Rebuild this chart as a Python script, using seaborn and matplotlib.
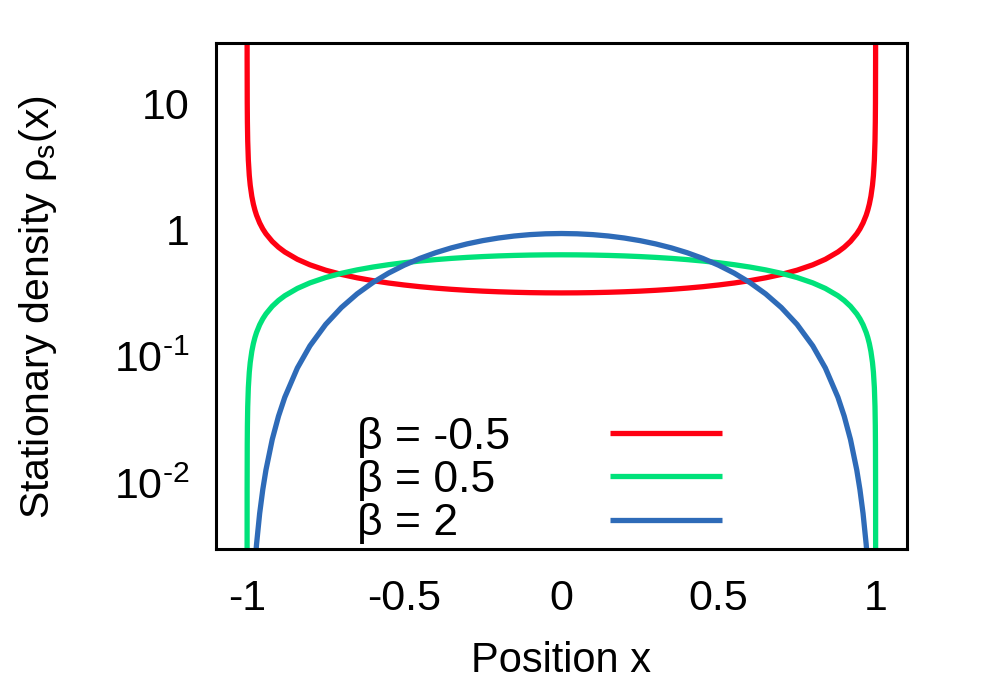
import numpy as np
import pandas as pd
import matplotlib
matplotlib.use("Agg")
import matplotlib.pyplot as plt
import matplotlib.ticker as mticker
from matplotlib.lines import Line2D
import seaborn as sns

# values (curves are symmetric in x, so only x >= 0 is listed)
x_half = [0, 0.05, 0.1, 0.15, 0.2, 0.25, 0.3, 0.35, 0.4, 0.45, 0.5, 0.55, 0.6,
          0.65, 0.7, 0.75, 0.8, 0.84, 0.88, 0.9, 0.92, 0.94, 0.95, 0.96, 0.97,
          0.975, 0.98, 0.985, 0.99, 0.993, 0.996, 0.998, 0.999, 0.9995, 0.9999,
          0.99999]
rho_m05 = [0.3183, 0.3187, 0.3199, 0.3220, 0.3249, 0.3287, 0.3337, 0.3398,
           0.3473, 0.3564, 0.3676, 0.3811, 0.3979, 0.4189, 0.4457, 0.4812,
           0.5305, 0.5866, 0.6702, 0.7303, 0.8122, 0.9330, 1.019, 1.137, 1.309,
           1.433, 1.600, 1.845, 2.256, 2.695, 3.563, 5.036, 7.120, 10.07, 22.51,
           71.2]
rho_05 = [0.6366, 0.6358, 0.6334, 0.6294, 0.6238, 0.6164, 0.6073, 0.5964,
          0.5835, 0.5685, 0.5513, 0.5317, 0.5093, 0.4838, 0.4546, 0.4211,
          0.3820, 0.3454, 0.3024, 0.2775, 0.2495, 0.2172, 0.1988, 0.1783,
          0.1548, 0.1415, 0.1267, 0.1098, 0.0898, 0.0752, 0.0569, 0.0402,
          0.0285, 0.0201, 0.0090, 0.00285]
x_half_b2 = x_half[:26]
rho_2 = [0.9375, 0.9328, 0.9188, 0.8958, 0.8640, 0.8240, 0.7763, 0.7219,
         0.6615, 0.5963, 0.5273, 0.4561, 0.3840, 0.3127, 0.2438, 0.1794,
         0.1215, 0.08125, 0.04771, 0.03384, 0.02212, 0.01270, 0.008912,
         0.005762, 0.003275, 0.002286]

labels = ["β = -0.5", "β = 0.5", "β = 2"]
colors = ["#ff0012", "#00e27a", "#2e6bb8"]

x_ticks = [-1, -0.5, 0, 0.5, 1]
x_ticklabels = ["-1", "-0.5", "0", "0.5", "1"]
y_ticks = [0.01, 0.1, 1, 10]
y_ticklabels = ["10$^{\\text{-2}}$", "10$^{\\text{-1}}$", "1", "10"]


def mirror(xs, ys):
    xs = np.asarray(xs, dtype=float)
    ys = np.asarray(ys, dtype=float)
    return np.concatenate([-xs[::-1], xs[1:]]), np.concatenate([ys[::-1], ys[1:]])


frames = []
for lab, xs, ys in zip(labels, [x_half, x_half, x_half_b2], [rho_m05, rho_05, rho_2]):
    xx, yy = mirror(xs, ys)
    frames.append(pd.DataFrame({"x": xx, "rho": yy, "beta": lab}))
df = pd.concat(frames, ignore_index=True)

sns.set_style("white")
plt.rcParams["font.family"] = ["Liberation Sans", "DejaVu Sans"]
plt.rcParams["mathtext.fontset"] = "custom"
plt.rcParams["mathtext.rm"] = "Liberation Sans"
plt.rcParams["axes.unicode_minus"] = False
plt.rcParams["lines.solid_capstyle"] = "butt"
for k in ["text.color", "axes.labelcolor", "xtick.color", "ytick.color"]:
    plt.rcParams[k] = "black"

fs_tick = 31
fs_label = 30
fs_leg = 32

fig = plt.figure(figsize=(9.87, 6.91), dpi=100)
ax = fig.add_axes([0.2185, 0.205, 0.7005, 0.7328])

sns.lineplot(data=df, x="x", y="rho", hue="beta", hue_order=labels,
             palette=colors, estimator=None, linewidth=3.8, legend=False, ax=ax)

ax.set_yscale("log")
ax.set_xlim(-1.1, 1.1)
ax.set_ylim(0.003, 30)

ax.xaxis.set_major_locator(mticker.FixedLocator(x_ticks))
ax.xaxis.set_major_formatter(mticker.FixedFormatter(x_ticklabels))
ax.xaxis.set_minor_locator(mticker.MultipleLocator(0.1))
ax.yaxis.set_major_locator(mticker.FixedLocator(y_ticks))
ax.yaxis.set_major_formatter(mticker.FixedFormatter(y_ticklabels))
ax.yaxis.set_minor_locator(mticker.LogLocator(base=10, subs=np.arange(2, 10)))
ax.yaxis.set_minor_formatter(mticker.NullFormatter())

ax.tick_params(which="both", direction="in", top=False, right=False,
               labelsize=fs_tick)
ax.tick_params(which="major", length=12, width=1.4)
ax.tick_params(which="minor", length=6, width=1.2)
ax.tick_params(axis="x", which="major", pad=21)
ax.tick_params(axis="y", which="major", pad=19)
for sp in ax.spines.values():
    sp.set_linewidth(2.2)
    sp.set_color("black")

ax.set_xlabel("Position x", fontsize=fs_label)
ax.set_ylabel("Stationary density ρ$_\\mathrm{s}$(x)", fontsize=29.5)
ax.xaxis.set_label_coords(0.5, -0.181)
ax.yaxis.set_label_coords(-0.226, 0.478)

# gnuplot-style key: text left-justified, sample lines to the right
text_proxies = [Line2D([], [], linestyle="none") for _ in labels]
leg_text = ax.legend(text_proxies, labels, loc="center left",
                     bbox_to_anchor=(0.2044, 0.136), frameon=False,
                     fontsize=fs_leg, handlelength=0, handletextpad=0,
                     labelspacing=0.05, borderpad=0, borderaxespad=0)
ax.add_artist(leg_text)
ax.legend(ax.get_lines()[:3], [" "] * 3, loc="center left",
          bbox_to_anchor=(0.5704, 0.136), frameon=False, fontsize=fs_leg,
          handlelength=112 / (fs_leg * 100 / 72), handletextpad=0,
          labelspacing=0.05, borderpad=0, borderaxespad=0)

fig.savefig("out.png", dpi=100)
